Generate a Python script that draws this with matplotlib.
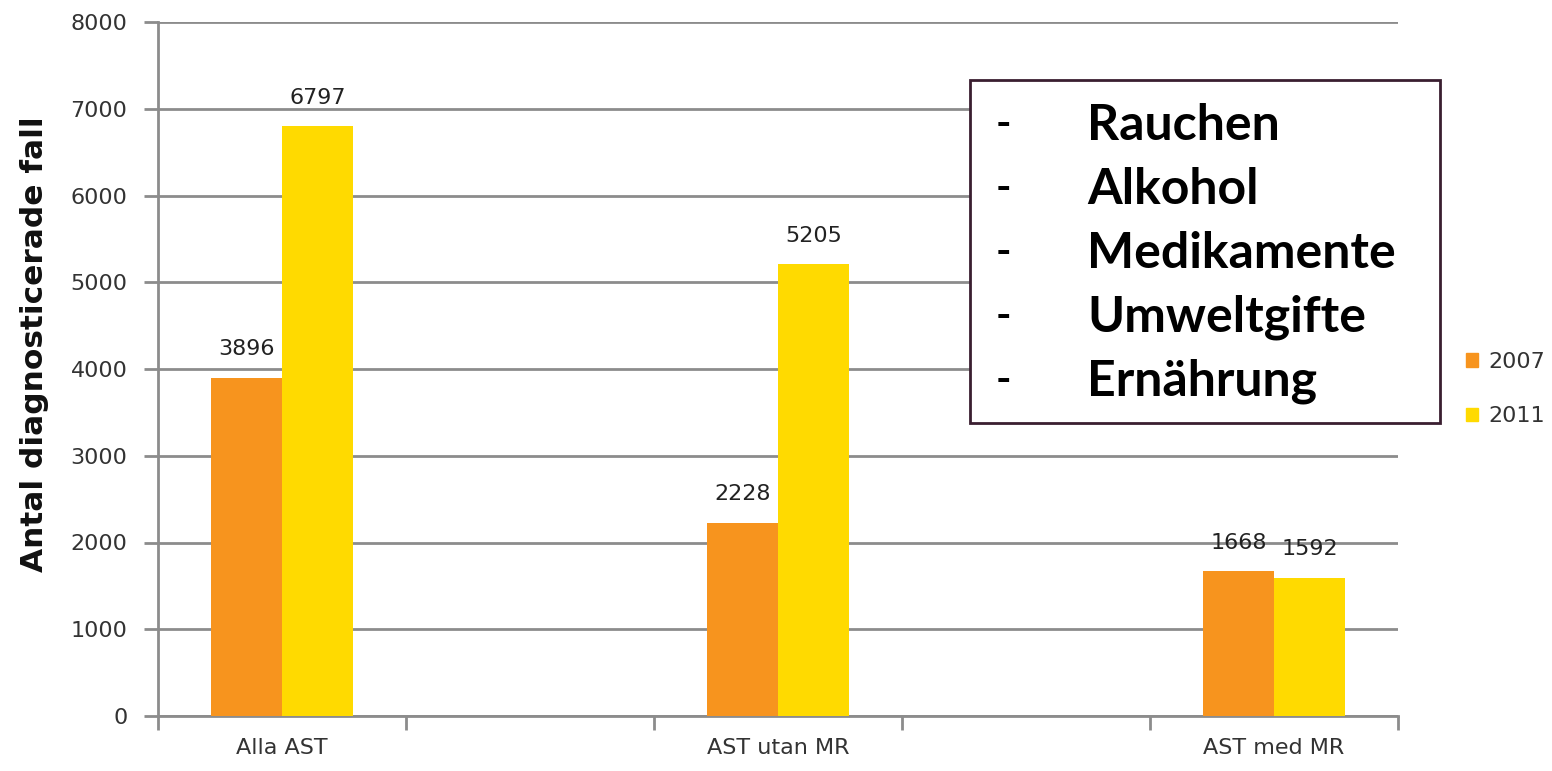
import matplotlib.pyplot as plt
from matplotlib.patches import Rectangle, Patch

# categories (the two blank slots leave the gaps between groups)
categories = ["Alla AST", "", "AST utan MR", "", "AST med MR"]
years = ["2007", "2011"]
cases_2007 = [3896, None, 2228, None, 1668]
cases_2011 = [6797, None, 5205, None, 1592]
factors = ["Rauchen", "Alkohol", "Medikamente", "Umweltgifte", "Ernährung"]

orange = "#F7941E"
yellow = "#FFDA00"
grid_col = "#8C8C8C"
txt_col = "#333333"
fs = 16

fig = plt.figure(figsize=(15.52, 7.71), dpi=100)
ax = fig.add_axes([158 / 1552, 1 - 716 / 771, 1240 / 1552, 694 / 771])

w = 0.286
xs = [i for i, v in enumerate(cases_2007) if v is not None]
v07 = [cases_2007[i] for i in xs]
v11 = [cases_2011[i] for i in xs]
b1 = ax.bar([x - w / 2 for x in xs], v07, w, color=orange, zorder=3)
b2 = ax.bar([x + w / 2 for x in xs], v11, w, color=yellow, zorder=3)
for bars in (b1, b2):
    ax.bar_label(bars, padding=13.5, fontsize=fs, color="#222222")

ax.set_xlim(-0.5, len(categories) - 0.5)
ax.set_ylim(0, 8000)
ax.set_yticks(range(0, 8001, 1000))
ax.set_xticks([i - 0.5 for i in range(len(categories) + 1)], minor=False)
ax.set_xticklabels([])
ax.set_xticks(range(len(categories)), minor=True)
ax.set_xticklabels(categories, minor=True, fontsize=fs, color=txt_col)
ax.tick_params(axis="x", which="minor", length=0, pad=16)
ax.tick_params(axis="x", which="major", length=10, width=2, color=grid_col)
ax.tick_params(axis="y", length=10, width=2, color=grid_col, labelsize=fs,
               labelcolor=txt_col, pad=12)

ax.grid(axis="y", color=grid_col, linewidth=2, zorder=0)
ax.set_axisbelow(True)
for s in ["top", "right"]:
    ax.spines[s].set_visible(False)
for s in ["left", "bottom"]:
    ax.spines[s].set_color(grid_col)
    ax.spines[s].set_linewidth(2)

fig.text(35 / 1552, 1 - 344 / 771, "Antal diagnosticerade fall", rotation=90,
         ha="center", va="center", fontsize=22.5, fontweight="bold",
         family="Liberation Sans Narrow", color="#111111")

# legend for the years
handles = [Patch(color=orange), Patch(color=yellow)]
fig.legend(handles, years, loc="center left",
           bbox_to_anchor=(1446 / 1552, 1 - 389 / 771), frameon=False,
           fontsize=fs, handlelength=0.55, handleheight=0.55,
           handletextpad=0.45, labelspacing=1.55, labelcolor=txt_col)

# text box with risk factors
box = Rectangle((970 / 1552, 1 - 423 / 771), 470 / 1552, 343 / 771,
                transform=fig.transFigure, facecolor="white",
                edgecolor="#3A1E30", linewidth=2, zorder=5)
fig.add_artist(box)
for k, f in enumerate(factors):
    y = 1 - (125 + k * 64) / 771
    fig.text(996 / 1552, y, "-", ha="left", va="center", fontsize=30,
             fontweight="bold", family="Lato", zorder=6)
    fig.text(1087 / 1552, y, f, ha="left", va="center", fontsize=36,
             fontweight="bold", family="Lato", zorder=6)

fig.savefig("out.png", dpi=100)
